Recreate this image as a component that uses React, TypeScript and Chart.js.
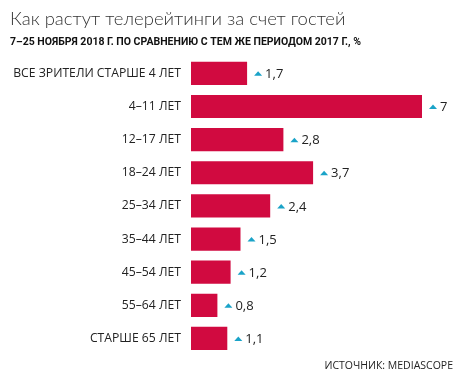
import React, { useEffect, useRef } from "react";
import { Chart, registerables } from "chart.js";

Chart.register(...registerables);

const categories = [
  "ВСЕ ЗРИТЕЛИ СТАРШЕ 4 ЛЕТ",
  "4–11 ЛЕТ",
  "12–17 ЛЕТ",
  "18–24 ЛЕТ",
  "25–34 ЛЕТ",
  "35–44 ЛЕТ",
  "45–54 ЛЕТ",
  "55–64 ЛЕТ",
  "СТАРШЕ 65 ЛЕТ",
];
const growth = [1.7, 7, 2.8, 3.7, 2.4, 1.5, 1.2, 0.8, 1.1];
const titleText = "Как растут телерейтинги за счет гостей";
const subtitleText = "7–25 НОЯБРЯ 2018 Г. ПО СРАВНЕНИЮ С ТЕМ ЖЕ ПЕРИОДОМ 2017 Г., %";
const sourceText = "ИСТОЧНИК: MEDIASCOPE";

const FONT = "'Open Sans', 'DejaVu Sans', sans-serif";

const labelPlugin = {
  id: "valueLabels",
  afterDatasetsDraw(chart: any) {
    const ctx = chart.ctx;
    const meta = chart.getDatasetMeta(0);
    ctx.save();
    meta.data.forEach((bar: any, i: number) => {
      const x = bar.x;
      const y = bar.y;
      ctx.fillStyle = "#1AA3C8";
      ctx.beginPath();
      ctx.moveTo(x + 7, y + 2.5);
      ctx.lineTo(x + 15, y + 2.5);
      ctx.lineTo(x + 11, y - 2);
      ctx.closePath();
      ctx.fill();
      ctx.fillStyle = "#222";
      ctx.font = `13px ${FONT}`;
      ctx.textBaseline = "middle";
      ctx.textAlign = "left";
      ctx.fillText(String(growth[i]).replace(".", ","), x + 18, y + 1);
    });
    ctx.font = `10.5px ${FONT}`;
    ctx.fillStyle = "#222";
    ctx.textAlign = "right";
    ctx.textBaseline = "middle";
    ctx.fillText(sourceText, 453, 366);
    ctx.restore();
  },
};

export default function App() {
  const ref = useRef<HTMLCanvasElement>(null);
  useEffect(() => {
    if (!ref.current) return;
    const chart = new Chart(ref.current, {
      type: "bar",
      data: {
        labels: categories,
        datasets: [
          {
            data: growth,
            backgroundColor: "#D10A40",
            borderWidth: 0,
            barPercentage: 0.7,
            categoryPercentage: 1,
          },
        ],
      },
      options: {
        indexAxis: "y",
        animation: false,
        responsive: false,
        maintainAspectRatio: false,
        layout: { padding: { left: 10, right: 14, top: 0, bottom: 25 } },
        plugins: {
          legend: { display: false },
          tooltip: { enabled: false },
          title: {
            display: true,
            text: titleText,
            align: "start",
            color: "#333",
            font: { family: "Lato, Roboto, sans-serif", size: 18.5, weight: "300" as any, lineHeight: 1.2 },
            padding: { top: 8, bottom: 0 },
          },
          subtitle: {
            display: true,
            text: subtitleText,
            align: "start",
            color: "#111",
            font: { family: "Roboto, 'Open Sans', sans-serif", size: 10.5, weight: "bold", lineHeight: 1.2 },
            padding: { top: 6, bottom: 8 },
          },
        },
        scales: {
          x: { display: false, min: 0, max: 8 },
          y: {
            grid: { display: false, drawTicks: false },
            border: { display: false },
            ticks: {
              color: "#222",
              padding: 10,
              font: { family: FONT, size: 12.2 },
            },
            afterFit(scale: any) {
              scale.width = 181;
            },
          },
        },
      },
      plugins: [labelPlugin],
    });
    return () => chart.destroy();
  }, []);
  return (
    <div style={{ position: "fixed", left: 0, top: 0, width: 469, height: 380, background: "#fff" }}>
      <canvas ref={ref} width={469} height={380} style={{ width: 469, height: 380 }} />
    </div>
  );
}
